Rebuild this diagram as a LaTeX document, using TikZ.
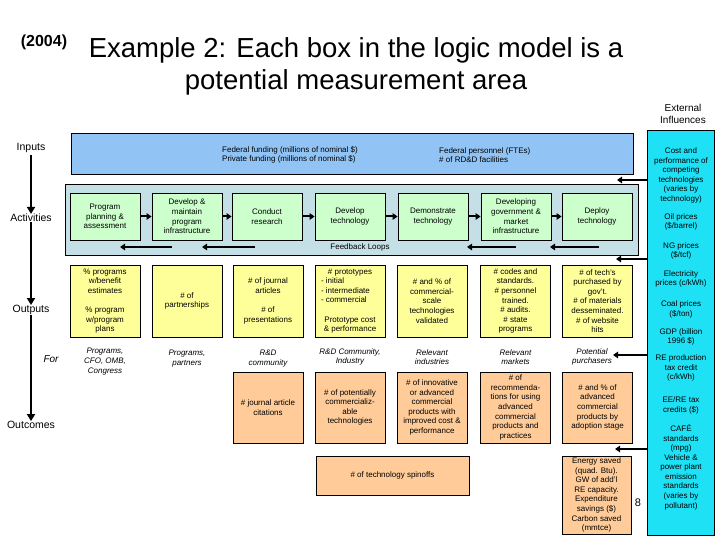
\documentclass[tikz,border=0pt]{standalone}
\usepackage{fontspec}
\setmainfont{Liberation Sans}
\usetikzlibrary{arrows.meta}
\definecolor{inblue}{RGB}{145,196,245}
\definecolor{actbg}{RGB}{196,224,230}
\definecolor{grn}{HTML}{CCFFCC}
\definecolor{yel}{HTML}{FFFF99}
\definecolor{pch}{HTML}{FFCC99}
\definecolor{cyn}{RGB}{30,225,245}
\begin{document}
\begin{tikzpicture}[x=1pt,y=-1pt,
  box/.style={draw=black, line width=0.8pt, minimum width=70pt, inner sep=1pt, align=center, font=\fontsize{8}{9.6}\selectfont},
  grnbox/.style={box, fill=grn, minimum height=47pt},
  yelbox/.style={box, fill=yel, minimum height=72pt},
  pchbox/.style={box, fill=pch, minimum height=71pt},
  flow/.style={line width=2pt, -{Triangle[length=5pt,width=6.5pt]}},
  axis/.style={line width=2.6pt, -{Triangle[length=7pt,width=8pt]}},
  lbl/.style={font=\fontsize{10.5}{12}\selectfont, inner sep=2pt},
  aud/.style={font=\fontsize{8}{9.6}\selectfont\itshape, align=center, inner sep=0pt},
  small/.style={font=\fontsize{8}{9.6}\selectfont, align=center, inner sep=0pt}]
\useasboundingbox (0,0) rectangle (720,540);

% titles
\node[font=\bfseries\fontsize{16}{18}\selectfont] (yr) at (44,42) {(2004)};
\node[font=\fontsize{27.5}{32}\selectfont, align=center] (title) at (356,66) {Example 2: Each box in the logic model is a\\potential measurement area};
\node[font=\fontsize{10}{12}\selectfont, align=center] (extlbl) at (683,114) {External\\Influences};

% axis labels
\node[lbl] (inputs) at (31,148) {Inputs};
\node[lbl] (activities) at (31,218) {Activities};
\node[lbl] (outputs) at (31,310) {Outputs};
\node[lbl] (outcomes) at (31,425) {Outcomes};
\node[font=\fontsize{10}{12}\selectfont\itshape] (for) at (51,359) {For};
\draw[axis] (inputs.south) -- ([yshift=-2pt]activities.north);
\draw[axis] ([yshift=2pt]activities.south) -- ([yshift=-2pt]outputs.north);
\draw[axis] ([yshift=2pt]outputs.south) -- ([yshift=-2pt]outcomes.north);

% inputs
\node[draw, fill=inblue, line width=1pt, minimum width=562pt, minimum height=41pt] (inbox) at (352,154.5) {};
\node[small, align=left, anchor=west] (fund) at (222,155) {Federal funding (millions of nominal \$)\\Private funding (millions of nominal \$)};
\node[small, align=left, anchor=west] (pers) at (439,155) {Federal personnel (FTEs)\\\# of RD\&D facilities};

% activities
\node[draw, fill=actbg, line width=1pt, minimum width=573pt, minimum height=70pt] (actbox) at (351.5,220) {};
\node[grnbox] (a1) at (105,216.5) {Program\\planning \&\\assessment};
\node[grnbox] (a2) at (187,216.5) {Develop \&\\maintain\\program\\infrastructure};
\node[grnbox] (a3) at (267,216.5) {Conduct\\research};
\node[grnbox] (a4) at (350,216.5) {Develop\\technology};
\node[grnbox] (a5) at (433,216.5) {Demonstrate\\technology};
\node[grnbox] (a6) at (516,216.5) {Developing\\government \&\\market\\infrastructure};
\node[grnbox] (a7) at (597,216.5) {Deploy\\technology};
\draw[flow] (a1) -- (a2);
\draw[flow] (a2) -- (a3);
\draw[flow] (a3) -- (a4);
\draw[flow] (a4) -- (a5);
\draw[flow] (a5) -- (a6);
\draw[flow] (a6) -- (a7);

% feedback loops
\node[small] (fbl) at (360,247) {Feedback Loops};
\coordinate (fb1a) at (172,247); \coordinate (fb1b) at (120,247);
\coordinate (fb2a) at (255,247); \coordinate (fb2b) at (202,247);
\coordinate (fb3a) at (516,247); \coordinate (fb3b) at (467,247);
\coordinate (fb4a) at (599,247); \coordinate (fb4b) at (550,247);
\draw[flow] (fb1a) -- (fb1b);
\draw[flow] (fb2a) -- (fb2b);
\draw[flow] (fb3a) -- (fb3b);
\draw[flow] (fb4a) -- (fb4b);

% outputs
\node[yelbox] (o1) at (105,301) {\% programs\\w/benefit\\estimates\\[9.6pt]\% program\\w/program\\plans};
\node[yelbox] (o2) at (187,301) {\# of\\partnerships};
\node[yelbox] (o3) at (268,301) {\# of journal\\articles\\[9.6pt]\# of\\presentations};
\node[yelbox] (o4) at (350,301) {\# prototypes\\\makebox[58pt][l]{- initial}\\\makebox[58pt][l]{- intermediate}\\\makebox[58pt][l]{- commercial}\\[9.6pt]Prototype cost\\\& performance};
\node[yelbox] (o5) at (432,301) {\# and \% of\\commercial-\\scale\\technologies\\validated};
\node[yelbox] (o6) at (515.5,301) {\# codes and\\standards.\\\# personnel\\trained.\\\# audits.\\\# state\\programs};
\node[yelbox] (o7) at (597.5,301) {\# of tech's\\purchased by\\gov't.\\\# of materials\\desseminated.\\\# of website\\hits};

% audiences
\node[aud] (u1) at (105,361.5) {Programs,\\CFO, OMB,\\Congress};
\node[aud] (u2) at (187,358.5) {Programs,\\partners};
\node[aud] (u3) at (268,358.5) {R\&D\\community};
\node[aud] (u4) at (350,357) {R\&D Community,\\Industry};
\node[aud] (u5) at (432,357) {Relevant\\industries};
\node[aud] (u6) at (515.5,357) {Relevant\\markets};
\node[aud] (u7) at (592,357) {Potential\\purchasers};

% outcomes
\node[pchbox] (p3) at (268,407.5) {\# journal article\\citations};
\node[pchbox] (p4) at (350,407.5) {\# of potentially\\commercializ-\\able\\technologies};
\node[pchbox] (p5) at (432,407.5) {\# of innovative\\or advanced\\commercial\\products with\\improved cost \&\\performance};
\node[pchbox] (p6) at (515.5,407.5) {\# of\\recommenda-\\tions for using\\advanced\\commercial\\products and\\practices};
\node[pchbox] (p7) at (597.5,407.5) {\# and \% of\\advanced\\commercial\\products by\\adoption stage};
\node[box, fill=pch, minimum width=153pt, minimum height=39pt] (spin) at (392.5,475.5) {\# of technology spinoffs};
\node[box, fill=pch, minimum width=69pt, minimum height=78pt] (energy) at (596.5,495) {Energy saved\\(quad. Btu).\\GW of add'l\\RE capacity.\\Expenditure\\savings (\$)\\Carbon saved\\(mmtce)};
\node[font=\fontsize{11}{13}\selectfont] (pg) at (638,503) {8};

% external influences
\node[draw, fill=cyn, line width=1pt, minimum width=67pt, minimum height=404pt] (ext) at (680.5,333) {};
\node[small] (e1) at (681,175.5) {Cost and\\performance of\\competing\\technologies\\(varies by\\technology)};
\node[small] (e2) at (681,222) {Oil prices\\(\$/barrel)};
\node[small] (e3) at (681,251) {NG prices\\(\$/tcf)};
\node[small] (e4) at (681,279) {Electricity\\prices (c/kWh)};
\node[small] (e5) at (681,309.5) {Coal prices\\(\$/ton)};
\node[small] (e6) at (681,337) {GDP (billion\\1996 \$)};
\node[small] (e7) at (681,368) {RE production\\tax credit\\(c/kWh)};
\node[small] (e8) at (681,405.5) {EE/RE tax\\credits (\$)};
\node[small] (e9) at (681,438.5) {CAFÉ\\standards\\(mpg)};
\node[small] (e10) at (681,482) {Vehicle \&\\power plant\\emission\\standards\\(varies by\\pollutant)};

\coordinate (t1) at (617,180);
\coordinate (t2) at (616,259);
\coordinate (t3) at (613,355);
\coordinate (t4) at (615,449);
\draw[flow] (ext.west |- t1) -- (t1);
\draw[flow] (ext.west |- t2) -- (t2);
\draw[flow] (ext.west |- t3) -- (t3);
\draw[flow] (ext.west |- t4) -- (t4);
\end{tikzpicture}
\end{document}
